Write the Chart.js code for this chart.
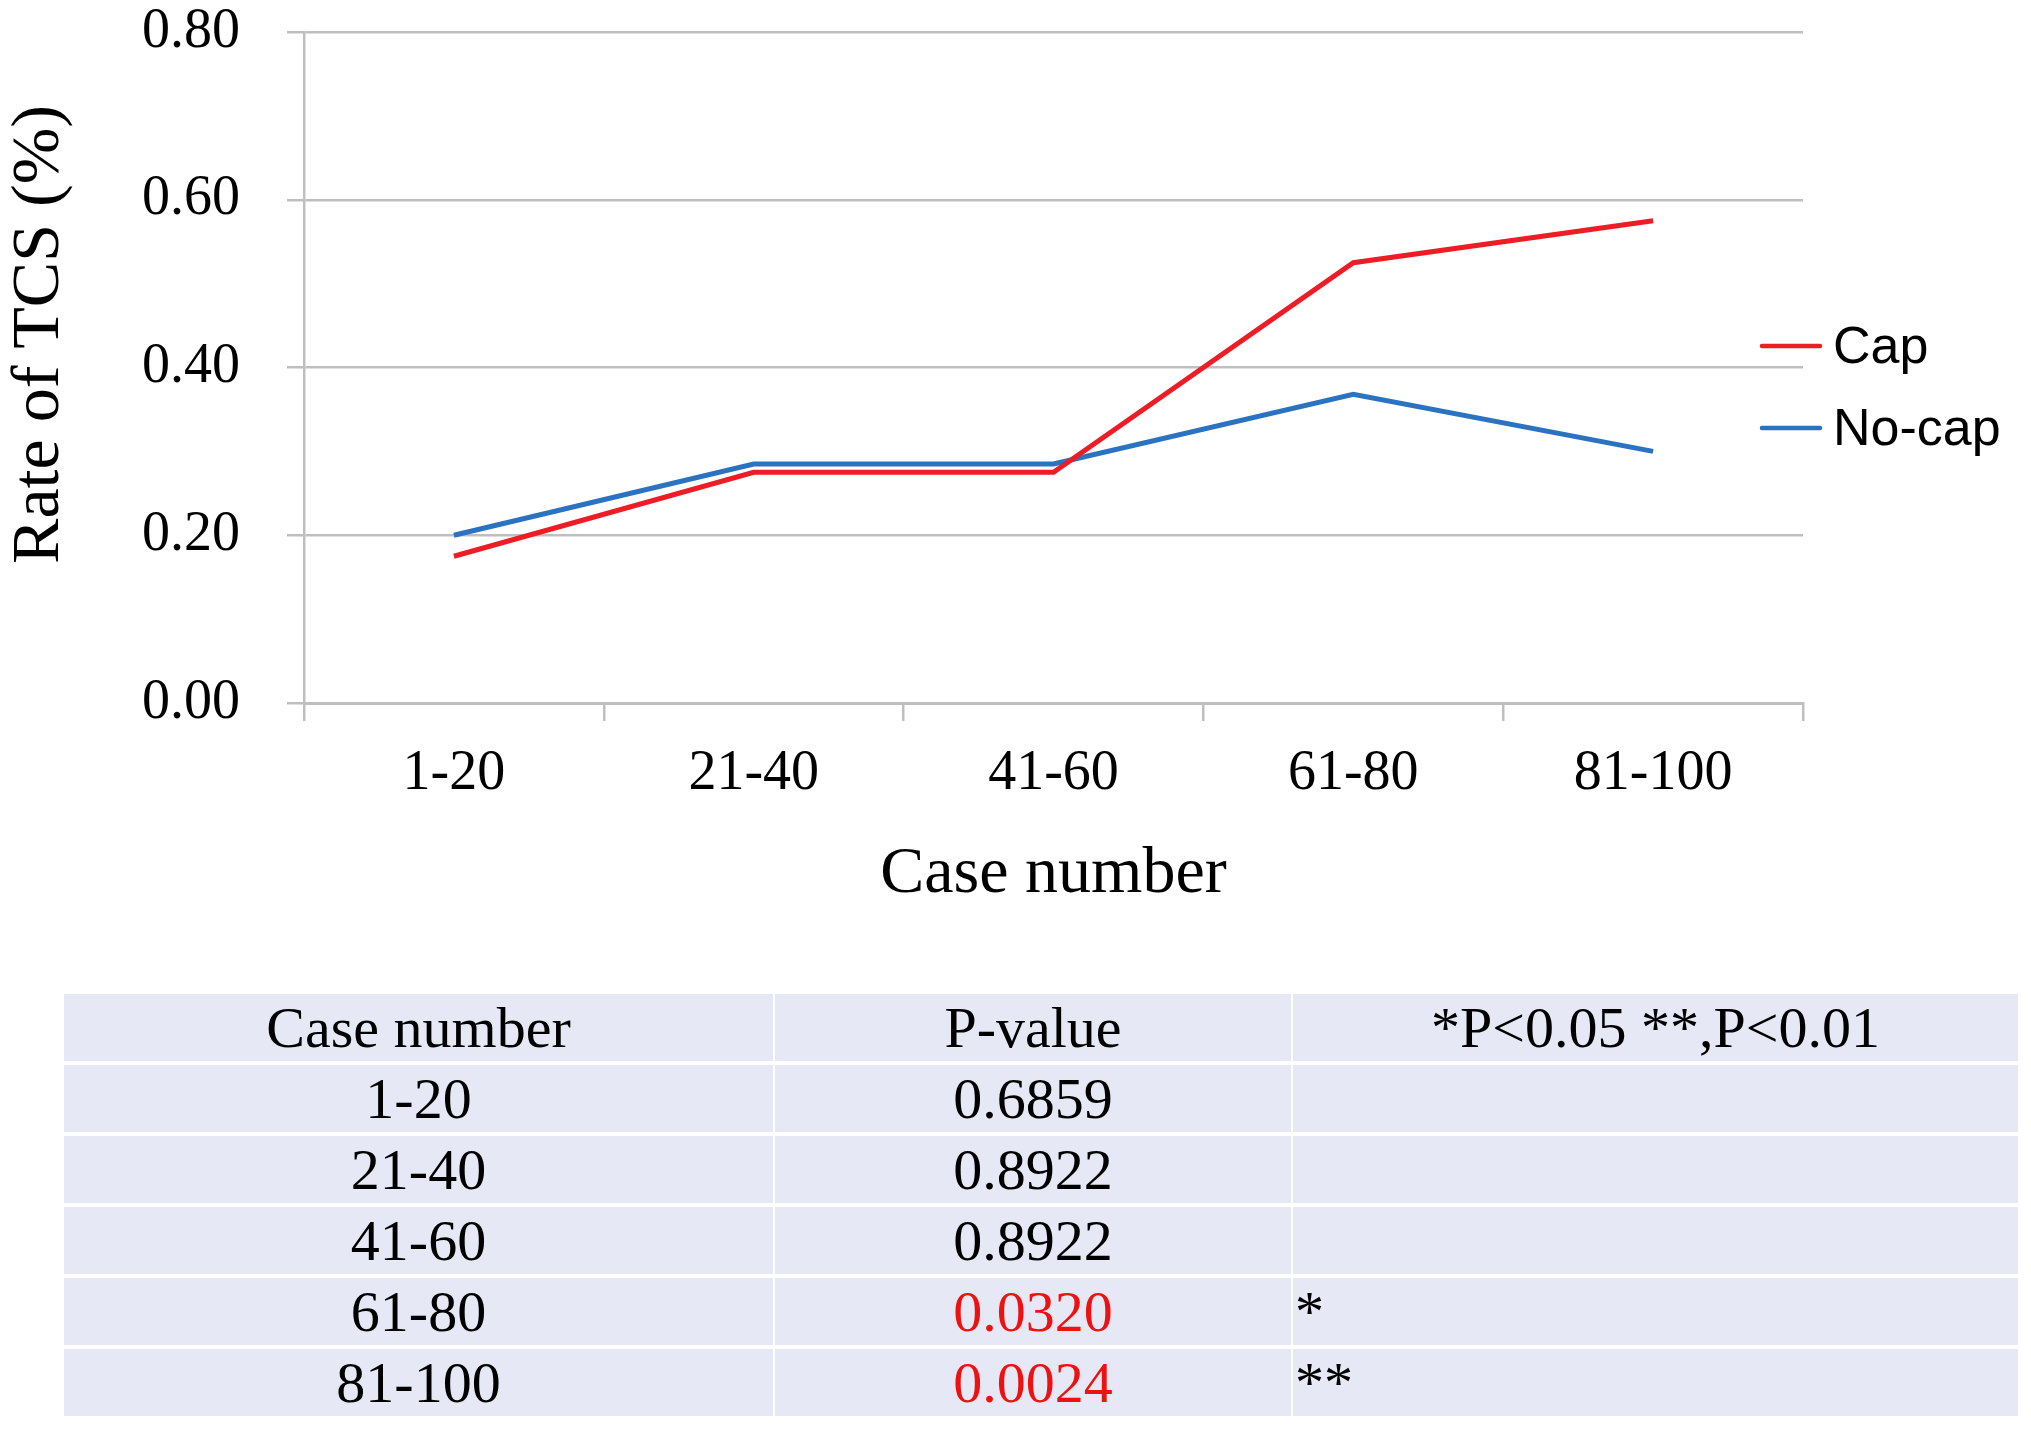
<!DOCTYPE html>
<html>
<head>
<meta charset="utf-8">
<script src="https://cdn.jsdelivr.net/npm/chart.js@4/dist/chart.umd.min.js"></script>
<style>
  html, body { margin: 0; padding: 0; background: #ffffff; }
  #wrap { position: relative; width: 2031px; height: 1429px; overflow: hidden; }
  #chartBox { position: absolute; left: 0; top: 0; width: 2031px; height: 960px; }
  #tbl { position: absolute; left: 62px; top: 990px; width: 1956px; border-collapse: collapse; table-layout: fixed;
         font-family: "Liberation Serif", "Times New Roman", serif; font-size: 58px; color: #000; }
  #tbl td { background: #e6e9f5; height: 67px; padding: 0; line-height: 67px; white-space: nowrap;
            border: 2px solid #ffffff; border-top-width: 4px; border-bottom-width: 0; }
  #tbl td.c0 { text-align: center; }
  #tbl td.c1 { text-align: center; }
  #tbl td.c2 { text-align: left; padding-left: 2px; }
  #tbl td.hdr2 { text-align: center; padding-left: 0; }
  #tbl td.sig { color: #ee1111; }
</style>
</head>
<body>
<div id="wrap">
  <div id="chartBox"><canvas id="c"></canvas></div>
  <table id="tbl">
    <colgroup><col style="width:711px"><col style="width:518px"><col style="width:727px"></colgroup>
    <tbody id="tb"></tbody>
  </table>
</div>
<script>
// ---- data ----
const categories = ["1-20", "21-40", "41-60", "61-80", "81-100"];
const capValues = [0.175, 0.275, 0.275, 0.525, 0.575];
const noCapValues = [0.20, 0.285, 0.285, 0.368, 0.30];
const seriesLabels = ["Cap", "No-cap"];
const yTicks = [0.00, 0.20, 0.40, 0.60, 0.80];
const yTitle = "Rate of TCS (%)";
const xTitle = "Case number";

const tableHeader = ["Case number", "P-value", "*P<0.05 **,P<0.01"];
const tableCases = ["1-20", "21-40", "41-60", "61-80", "81-100"];
const tablePValues = ["0.6859", "0.8922", "0.8922", "0.0320", "0.0024"];
const tableMarks = ["", "", "", "*", "**"];

// ---- table ----
const tb = document.getElementById('tb');
(function () {
  const h = document.createElement('tr');
  tableHeader.forEach((t, i) => {
    const td = document.createElement('td');
    td.className = 'c' + i + (i === 2 ? ' hdr2' : '');
    td.textContent = t;
    h.appendChild(td);
  });
  tb.appendChild(h);
  tableCases.forEach((cs, r) => {
    const tr = document.createElement('tr');
    const a = document.createElement('td'); a.className = 'c0'; a.textContent = cs;
    const b = document.createElement('td'); b.className = 'c1' + (tableMarks[r] ? ' sig' : ''); b.textContent = tablePValues[r];
    const c = document.createElement('td'); c.className = 'c2'; c.textContent = tableMarks[r];
    tr.appendChild(a); tr.appendChild(b); tr.appendChild(c);
    tb.appendChild(tr);
  });
})();

const serif = '"Liberation Serif", "Times New Roman", serif';

// ---- custom legend + y title plugin (positions as in original) ----
const sideLegend = {
  id: 'sideLegend',
  afterDraw(chart) {
    const ctx = chart.ctx;
    const area = chart.chartArea;
    ctx.save();
    ctx.font = '52px "Liberation Sans", Arial, sans-serif';
    ctx.textBaseline = 'middle';
    ctx.fillStyle = '#000000';
    chart.data.datasets.forEach((ds, i) => {
      const y = area.top + 314 + i * 82;
      const x0 = area.right - 41;
      ctx.strokeStyle = ds.borderColor;
      ctx.lineWidth = 4.5;
      ctx.lineCap = 'round';
      ctx.beginPath();
      ctx.moveTo(x0, y);
      ctx.lineTo(x0 + 58, y);
      ctx.stroke();
      ctx.fillText(ds.label, x0 + 71, y + 3);
    });
    // y axis title
    ctx.font = '68px ' + serif;
    ctx.textAlign = 'center';
    ctx.textBaseline = 'middle';
    ctx.translate(40, (area.top + area.bottom) / 2 - 33);
    ctx.rotate(-Math.PI / 2);
    ctx.fillText(yTitle, 0, 0);
    ctx.restore();
  }
};

new Chart(document.getElementById('c'), {
  type: 'line',
  data: {
    labels: categories,
    datasets: [
      { label: seriesLabels[0], data: capValues, borderColor: '#ee1c25', backgroundColor: '#ee1c25',
        borderWidth: 5, pointRadius: 0, tension: 0, fill: false },
      { label: seriesLabels[1], data: noCapValues, borderColor: '#2b72c0', backgroundColor: '#2b72c0',
        borderWidth: 5, pointRadius: 0, tension: 0, fill: false }
    ]
  },
  options: {
    responsive: true,
    maintainAspectRatio: false,
    animation: false,
    devicePixelRatio: 1,
    layout: { padding: { left: 0, right: 228, top: 32, bottom: 46 } },
    plugins: { legend: { display: false }, tooltip: { enabled: false } },
    scales: {
      x: {
        offset: true,
        grid: { offset: true, drawOnChartArea: false, drawTicks: true, tickLength: 18,
                color: '#bfbfbf', lineWidth: 2.5 },
        border: { display: true, color: '#bfbfbf', width: 3 },
        ticks: { color: '#000', font: { family: serif, size: 56 }, padding: 20, maxRotation: 0, autoSkip: false },
        title: { display: true, text: xTitle, color: '#000', font: { family: serif, size: 66 }, padding: 0 },
        afterFit(scale) { scale.height = 211; scale.paddingLeft = 0; scale.paddingRight = 0; }
      },
      y: {
        min: 0, max: 0.8,
        afterBuildTicks(scale) { scale.ticks = yTicks.map(v => ({ value: v })); },
        grid: { color: '#bfbfbf', lineWidth: 2.5, drawTicks: true, tickLength: 17 },
        border: { display: true, color: '#bfbfbf', width: 2.5 },
        ticks: { color: '#000', font: { family: serif, size: 56 }, padding: 47,
                 callback: v => Number(v).toFixed(2) },
        title: { display: false },
        afterFit(scale) { scale.width = 304; scale.paddingTop = 0; scale.paddingBottom = 0; }
      }
    }
  },
  plugins: [sideLegend]
});
</script>
</body>
</html>
